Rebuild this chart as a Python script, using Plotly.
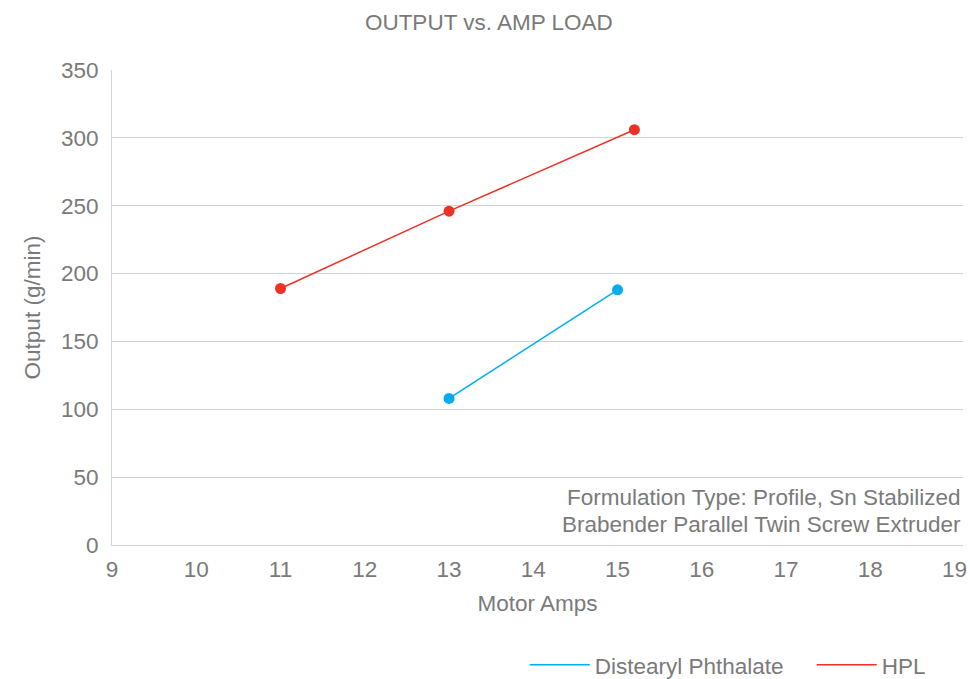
import plotly.graph_objects as go

# Data
hpl_amps = [11.0, 13.0, 15.2]
hpl_output = [189, 246, 306]
dp_amps = [13.0, 15.0]
dp_output = [108, 188]

x_ticks = list(range(9, 20))
y_ticks = list(range(0, 351, 50))

BLUE = "#00AEEF"
RED = "#EE3124"
GRAY = "#7A7A7A"
GRID = "#D3D3D3"
FONT = "Liberation Sans, Arial, sans-serif"
FS = 22.5

fig = go.Figure()

# legend (line only) + markers
fig.add_trace(go.Scatter(x=dp_amps, y=dp_output, mode="lines", name="Distearyl Phthalate",
                         line=dict(color=BLUE, width=1.5), legendgroup="dp"))
fig.add_trace(go.Scatter(x=dp_amps, y=dp_output, mode="markers", showlegend=False,
                         marker=dict(color=BLUE, size=11), legendgroup="dp"))
fig.add_trace(go.Scatter(x=hpl_amps, y=hpl_output, mode="lines", name="HPL",
                         line=dict(color=RED, width=1.5), legendgroup="hpl"))
fig.add_trace(go.Scatter(x=hpl_amps, y=hpl_output, mode="markers", showlegend=False,
                         marker=dict(color=RED, size=11), legendgroup="hpl"))

fig.update_layout(
    width=970, height=679,
    paper_bgcolor="white", plot_bgcolor="white",
    margin=dict(l=112, r=7, t=70, b=134, autoexpand=False),
    font=dict(family=FONT, color=GRAY, size=FS),
    title=dict(text="OUTPUT vs. AMP LOAD", x=0.504, xref="container", xanchor="center",
               y=1 - 22 / 679, yref="container", yanchor="middle",
               font=dict(size=FS, color=GRAY)),
    showlegend=True,
    legend=dict(orientation="h", x=0.485, xanchor="left", xref="paper",
                y=-0.253, yanchor="middle", yref="paper",
                font=dict(size=FS, color=GRAY), itemwidth=60,
                bgcolor="rgba(0,0,0,0)", traceorder="normal",
                entrywidth=212, entrywidthmode="pixels"),
    xaxis=dict(range=[9, 19.1], tickvals=x_ticks, ticktext=[str(v) for v in x_ticks],
               showgrid=False, zeroline=False, showline=True, linecolor=GRID, linewidth=1,
               ticks="", tickfont=dict(size=FS, color=GRAY), ticklabelstandoff=4,
               ticklabeloverflow="allow",
               title=dict(text="Motor Amps", font=dict(size=FS, color=GRAY), standoff=14)),
    yaxis=dict(range=[0, 350], tickvals=y_ticks, ticktext=[str(v) for v in y_ticks],
               showgrid=True, gridcolor=GRID, gridwidth=1, zeroline=False,
               showline=True, linecolor=GRID, linewidth=1, ticks="",
               tickfont=dict(size=FS, color=GRAY), ticklabelstandoff=8,
               title=dict(text="Output (g/min)", font=dict(size=FS, color=GRAY), standoff=14)),
)

fig.add_annotation(text="Formulation Type: Profile, Sn Stabilized", xref="paper", yref="y",
                   x=1, y=35, xanchor="right", yanchor="middle", showarrow=False,
                   font=dict(size=FS, color=GRAY))
fig.add_annotation(text="Brabender Parallel Twin Screw Extruder", xref="paper", yref="y",
                   x=1, y=15, xanchor="right", yanchor="middle", showarrow=False,
                   font=dict(size=FS, color=GRAY))

fig.write_html("out.html", config={"displayModeBar": False},
               post_script="document.body.style.margin='0';document.body.style.padding='0';")
